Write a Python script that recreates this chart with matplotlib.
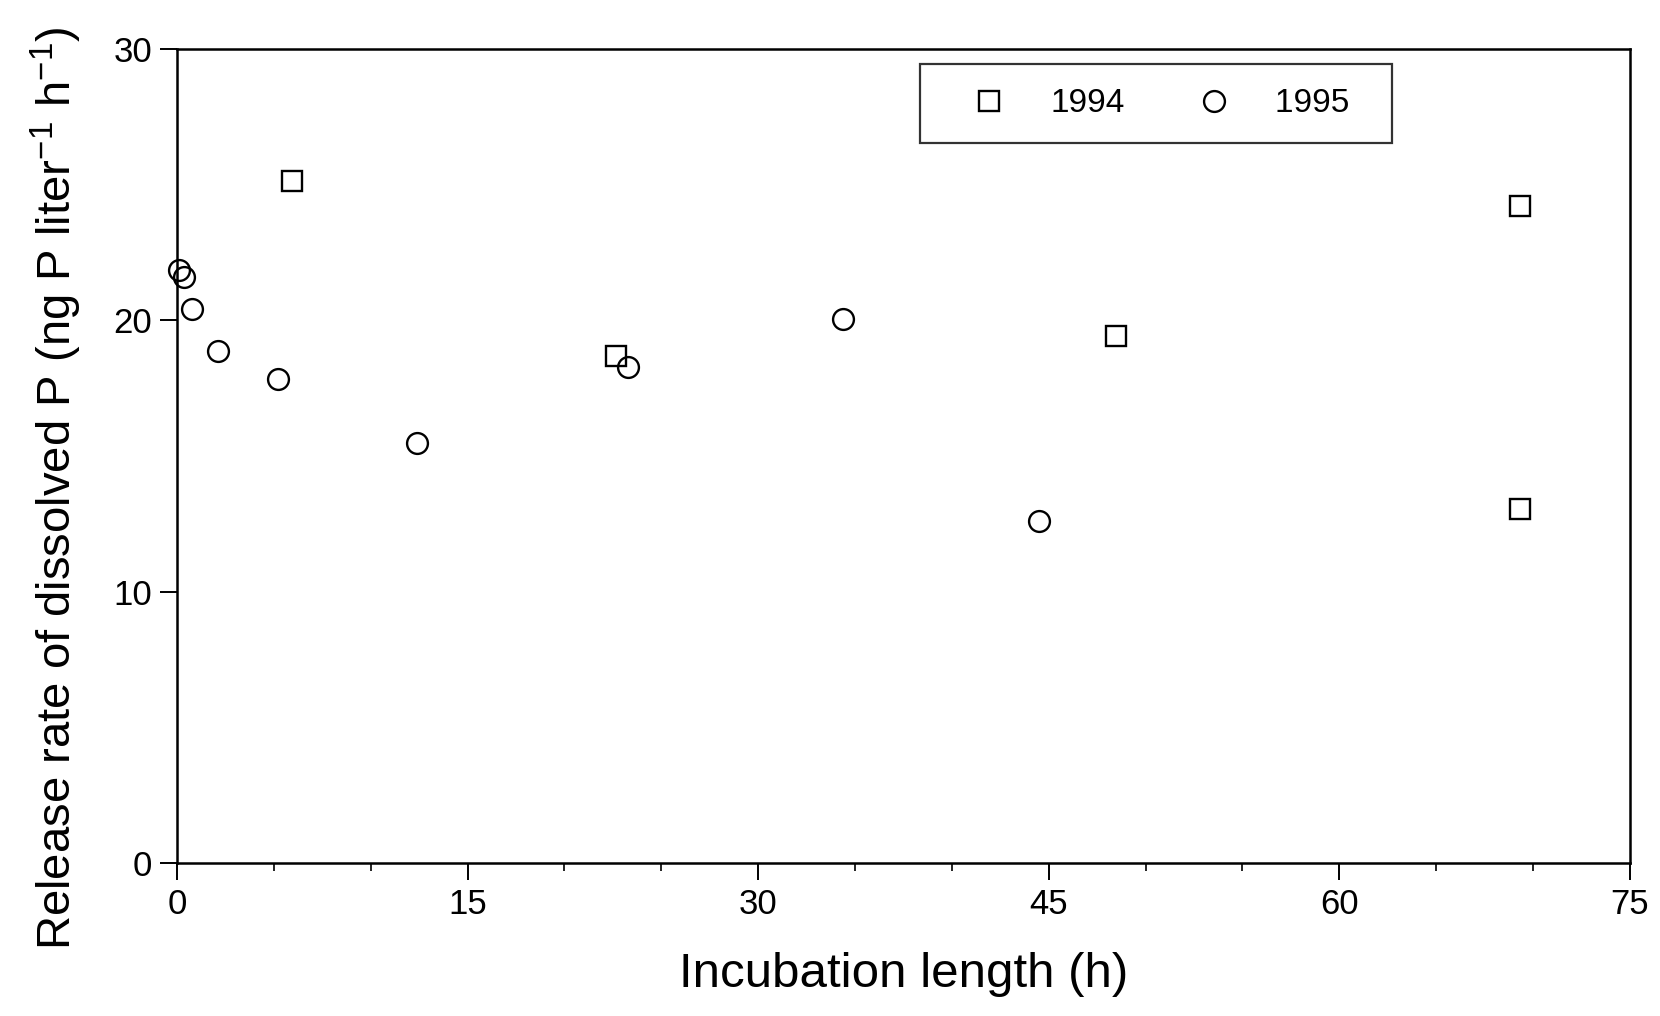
import numpy as np
import matplotlib
matplotlib.use("Agg")
import matplotlib.pyplot as plt
from matplotlib.ticker import MultipleLocator

plt.rcParams['font.family'] = ['Liberation Sans', 'DejaVu Sans']
plt.rcParams['mathtext.fontset'] = 'custom'
plt.rcParams['mathtext.rm'] = 'Liberation Sans'
plt.rcParams['mathtext.it'] = 'Liberation Sans'

# 1994 data (squares)
x_1994 = [5.95, 22.67, 48.45, 69.3, 69.35]
y_1994 = [25.15, 18.7, 19.42, 24.2, 13.05]

# 1995 data (circles)
x_1995 = [0.1, 0.35, 0.8, 2.1, 5.2, 12.4, 23.27, 34.4, 44.5]
y_1995 = [21.85, 21.6, 20.4, 18.87, 17.85, 15.47, 18.28, 20.04, 12.6]

fig = plt.figure(figsize=(16.6, 10.16), dpi=100)
ax = fig.add_axes([0.1066, 0.1506, 0.8753, 0.8012])

ax.plot(x_1994, y_1994, 's', ms=14, mfc='white', mec='black', mew=1.7,
        label='1994', clip_on=False)
ax.plot(x_1995, y_1995, 'o', ms=15, mfc='none', mec='black', mew=1.7,
        label='1995', clip_on=False)

ax.set_xlim(0, 75)
ax.set_ylim(0, 30)
ax.xaxis.set_major_locator(MultipleLocator(15))
ax.xaxis.set_minor_locator(MultipleLocator(5))
ax.yaxis.set_major_locator(MultipleLocator(10))
ax.tick_params(axis='both', which='major', direction='out', length=12,
               width=1.4, labelsize=25, pad=6)
ax.tick_params(axis='x', which='minor', direction='out', length=6, width=1.2)
for s in ax.spines.values():
    s.set_linewidth(1.8)

ax.set_xlabel('Incubation length (h)', fontsize=35.5, labelpad=22)
ax.set_ylabel(r'Release rate of dissolved P (ng P liter$^{-1}$ h$^{-1}$)',
              fontsize=34)
ax.yaxis.set_label_coords(-0.064, 0.46)

# trailing spaces give the extra right padding seen in the original box
leg = ax.legend(loc='upper left', bbox_to_anchor=(0.5115, 0.981), ncol=2,
                fontsize=24, frameon=True, fancybox=False, shadow=False,
                handlelength=2.7, handletextpad=0.5, columnspacing=1.3,
                borderpad=0.72, borderaxespad=0)
leg.get_texts()[1].set_text('1995  ')
leg.get_frame().set_edgecolor('black')
leg.get_frame().set_linewidth(1.6)

fig.savefig('out.png', dpi=100)
